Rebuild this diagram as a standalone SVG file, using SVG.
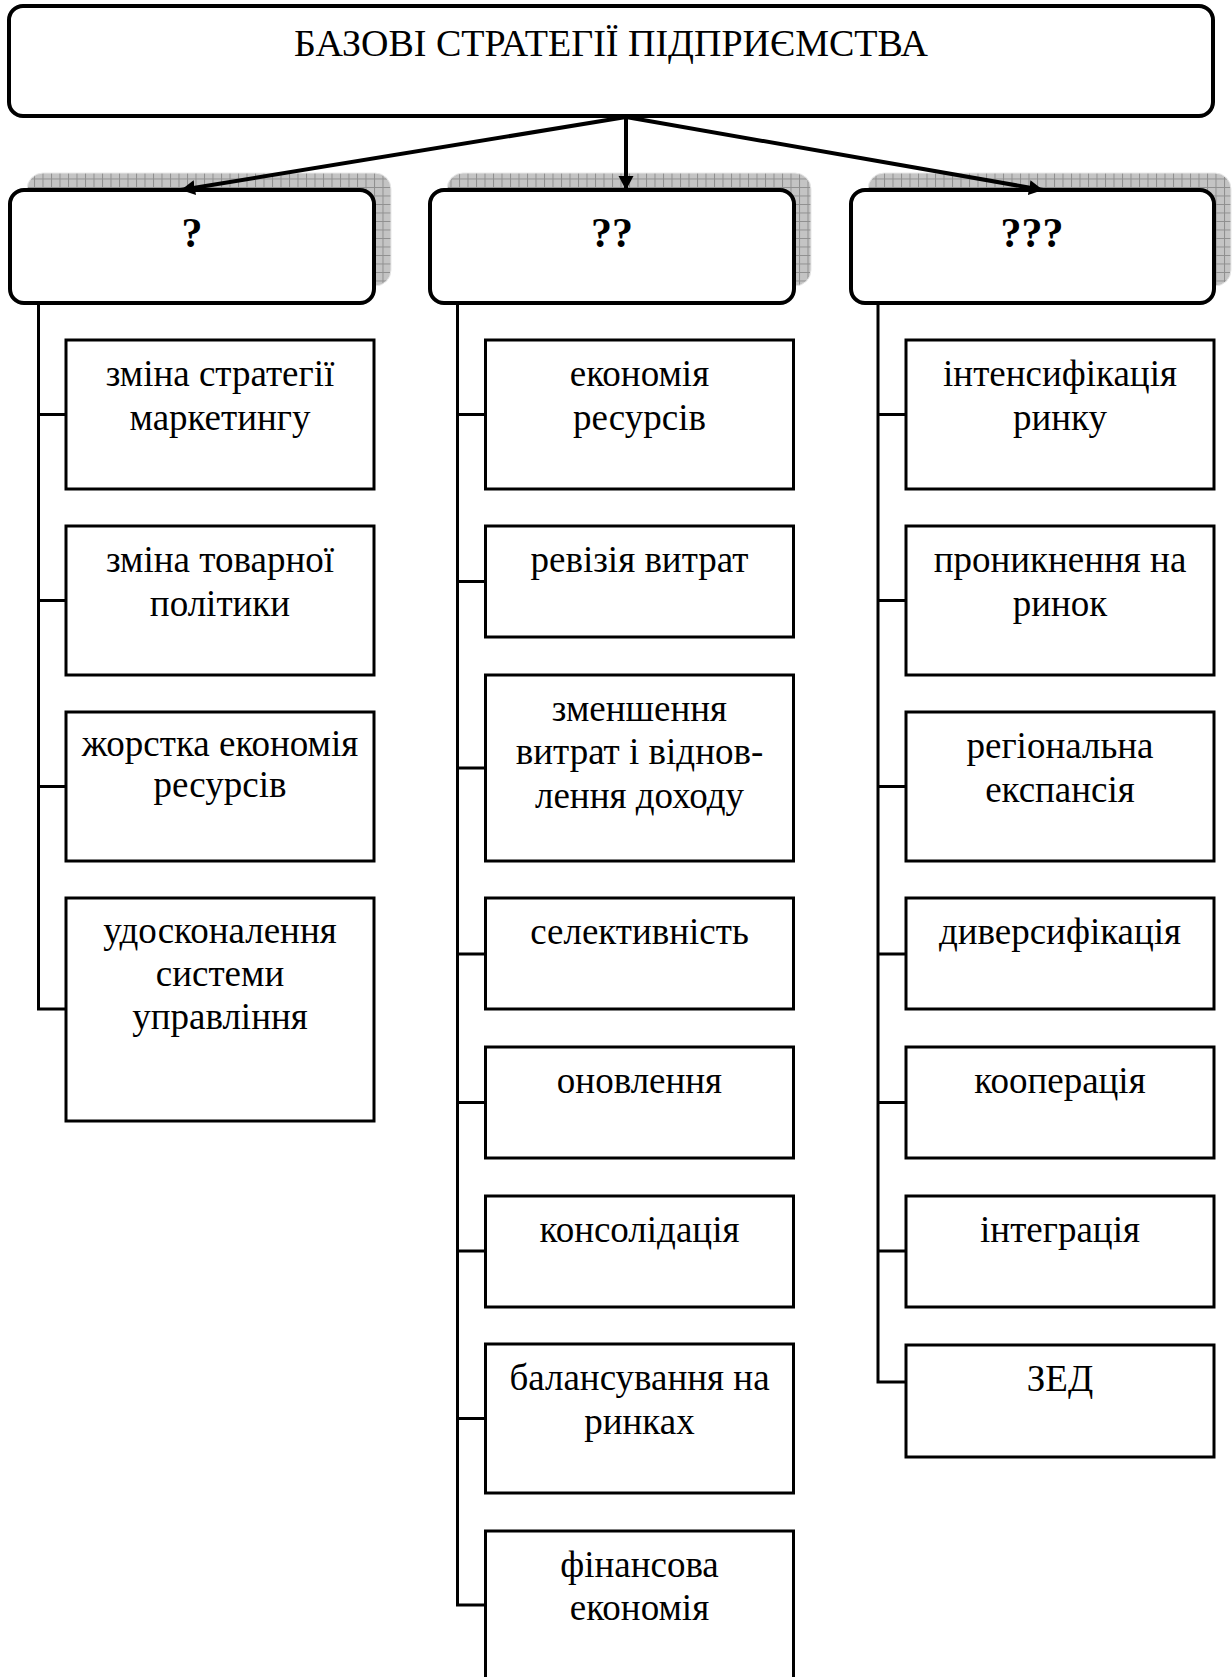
<svg xmlns="http://www.w3.org/2000/svg" width="1232" height="1677" viewBox="0 0 1232 1677">
<style>
.t{font-family:"Liberation Serif","Times New Roman",serif;font-size:37px;fill:#000;text-anchor:middle}
.h{font-family:"Liberation Serif","Times New Roman",serif;font-size:38px;fill:#000;text-anchor:middle}
.q{font-family:"Liberation Serif","Times New Roman",serif;font-size:42px;font-weight:bold;fill:#000;text-anchor:middle}
.rb{fill:#fff;stroke:#000;stroke-width:4}
.sh{fill:url(#grid);stroke:#e8e8e8;stroke-width:1}
.cb{fill:#fff;stroke:#000;stroke-width:3}
.ln{fill:none;stroke:#000;stroke-width:3}
.ar{fill:none;stroke:#000;stroke-width:4;marker-end:url(#ah)}
</style>
<defs>
<pattern id="grid" width="8.5" height="8.5" patternUnits="userSpaceOnUse">
<rect width="8.5" height="8.5" fill="#c4c4c4"/>
<path d="M0 0.5H8.5M0.5 0V8.5" stroke="#8f8f8f" stroke-width="1" fill="none"/>
</pattern>
<marker id="ah" markerWidth="16" markerHeight="16" refX="14" refY="8" orient="auto" markerUnits="userSpaceOnUse">
<path d="M0 0.5L14 8L0 15.5Z" fill="#000"/>
</marker>
</defs>
<rect width="1232" height="1677" fill="#fff"/>

<g id="root">
<rect class="rb" x="9" y="6" width="1204" height="110" rx="14"/>
<text class="h" x="611" y="56">БАЗОВІ СТРАТЕГІЇ ПІДПРИЄМСТВА</text>
</g>

<g id="s1">
<rect class="sh" x="27" y="173" width="364" height="113" rx="16"/>
<rect class="rb" x="10" y="190" width="364" height="113" rx="14"/>
<text class="q" x="192" y="247">?</text>
</g>
<g id="s2">
<rect class="sh" x="447" y="173" width="364" height="113" rx="16"/>
<rect class="rb" x="430" y="190" width="364" height="113" rx="14"/>
<text class="q" x="612" y="247">??</text>
</g>
<g id="s3">
<rect class="sh" x="868" y="173" width="363" height="113" rx="16"/>
<rect class="rb" x="851" y="190" width="363" height="113" rx="14"/>
<text class="q" x="1032" y="247">???</text>
</g>

<g id="connectors">
<line class="ar" x1="626" y1="117" x2="181" y2="190"/>
<line class="ar" x1="626" y1="117" x2="626" y2="190"/>
<line class="ar" x1="626" y1="117" x2="1043" y2="190"/>
<path class="ln" d="M38.5 303V1009H66M38.5 414.5H66M38.5 600.5H66M38.5 786.5H66"/>
<path class="ln" d="M457.5 303V1605H485.5M457.5 414.5H485.5M457.5 581.5H485.5M457.5 768H485.5M457.5 954H485.5M457.5 1102.5H485.5M457.5 1251H485.5M457.5 1418.5H485.5"/>
<path class="ln" d="M878 303V1382H906M878 414.5H906M878 600.5H906M878 786.5H906M878 954H906M878 1102.5H906M878 1251H906"/>
</g>

<g id="a1">
<rect class="cb" x="66" y="340" width="308" height="149"/>
<text class="t" x="220" y="386">зміна стратегії</text>
<text class="t" x="220" y="430">маркетингу</text>
</g>
<g id="a2">
<rect class="cb" x="66" y="526" width="308" height="149"/>
<text class="t" x="220" y="572">зміна товарної</text>
<text class="t" x="220" y="616">політики</text>
</g>
<g id="a3">
<rect class="cb" x="66" y="712" width="308" height="149"/>
<text class="t" x="220" y="756">жорстка економія</text>
<text class="t" x="220" y="797">ресурсів</text>
</g>
<g id="a4">
<rect class="cb" x="66" y="898" width="308" height="223"/>
<text class="t" x="220" y="943">удосконалення</text>
<text class="t" x="220" y="986">системи</text>
<text class="t" x="220" y="1029">управління</text>
</g>

<g id="b1">
<rect class="cb" x="485.5" y="340" width="308" height="149"/>
<text class="t" x="639.5" y="386">економія</text>
<text class="t" x="639.5" y="430">ресурсів</text>
</g>
<g id="b2">
<rect class="cb" x="485.5" y="526" width="308" height="111"/>
<text class="t" x="639.5" y="572">ревізія витрат</text>
</g>
<g id="b3">
<rect class="cb" x="485.5" y="675" width="308" height="186"/>
<text class="t" x="639.5" y="721">зменшення</text>
<text class="t" x="639.5" y="764">витрат і віднов-</text>
<text class="t" x="639.5" y="808">лення доходу</text>
</g>
<g id="b4">
<rect class="cb" x="485.5" y="898" width="308" height="111"/>
<text class="t" x="639.5" y="944">селективність</text>
</g>
<g id="b5">
<rect class="cb" x="485.5" y="1047" width="308" height="111"/>
<text class="t" x="639.5" y="1093">оновлення</text>
</g>
<g id="b6">
<rect class="cb" x="485.5" y="1196" width="308" height="111"/>
<text class="t" x="639.5" y="1242">консолідація</text>
</g>
<g id="b7">
<rect class="cb" x="485.5" y="1344" width="308" height="149"/>
<text class="t" x="639.5" y="1390">балансування на</text>
<text class="t" x="639.5" y="1434">ринках</text>
</g>
<g id="b8">
<rect class="cb" x="485.5" y="1531" width="308" height="150"/>
<text class="t" x="639.5" y="1577">фінансова</text>
<text class="t" x="639.5" y="1620">економія</text>
</g>

<g id="c1">
<rect class="cb" x="906" y="340" width="308" height="149"/>
<text class="t" x="1060" y="386">інтенсифікація</text>
<text class="t" x="1060" y="430">ринку</text>
</g>
<g id="c2">
<rect class="cb" x="906" y="526" width="308" height="149"/>
<text class="t" x="1060" y="572">проникнення на</text>
<text class="t" x="1060" y="616">ринок</text>
</g>
<g id="c3">
<rect class="cb" x="906" y="712" width="308" height="149"/>
<text class="t" x="1060" y="758">регіональна</text>
<text class="t" x="1060" y="802">експансія</text>
</g>
<g id="c4">
<rect class="cb" x="906" y="898" width="308" height="111"/>
<text class="t" x="1060" y="944">диверсифікація</text>
</g>
<g id="c5">
<rect class="cb" x="906" y="1047" width="308" height="111"/>
<text class="t" x="1060" y="1093">кооперація</text>
</g>
<g id="c6">
<rect class="cb" x="906" y="1196" width="308" height="111"/>
<text class="t" x="1060" y="1242">інтеграція</text>
</g>
<g id="c7">
<rect class="cb" x="906" y="1345" width="308" height="112"/>
<text class="t" x="1060" y="1391">ЗЕД</text>
</g>
</svg>
